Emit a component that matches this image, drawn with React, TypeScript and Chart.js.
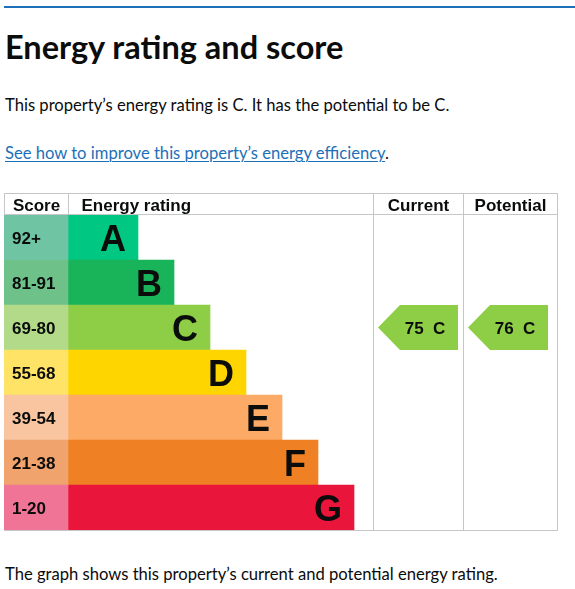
import { useEffect, useRef } from 'react';
import { Chart, registerables } from 'chart.js';
Chart.register(...registerables);

const bands = ['A', 'B', 'C', 'D', 'E', 'F', 'G'];
const scoreRanges = ['92+', '81-91', '69-80', '55-68', '39-54', '21-38', '1-20'];
const bandMin = [92, 81, 69, 55, 39, 21, 1];
const bandLength = [2, 3, 4, 5, 6, 7, 8]; // bar length in steps
const headers = ['Score', 'Energy rating', 'Current', 'Potential'];
const currentScore = 75;
const potentialScore = 76;

const bandColors = ['#00c781', '#19b459', '#8dce46', '#ffd500', '#fcaa65', '#ef8023', '#e9153b'];
const scoreColors = ['#6fc5a3', '#6fc18a', '#b2da88', '#ffe367', '#f8c5a0', '#f0a36c', '#ef7495'];

const COLS = [64, 305, 90, 94]; // column widths (scale units = px)
const STEP = 36;
const TOTAL = COLS.reduce((a, b) => a + b, 0);
const FONT = '"Liberation Sans", Arial, sans-serif';
const GRID = '#c4c6c8';
const INK = '#0b0c0c';

const bandOf = (score: number) => bandMin.findIndex(m => score >= m);

const tablePlugin = {
  id: 'epcTable',
  beforeDatasetsDraw(chart: any) {
    const { ctx, chartArea, scales } = chart;
    const x = scales.x;
    const edges = [0];
    COLS.forEach(w => edges.push(edges[edges.length - 1] + w));
    const px = edges.map(v => Math.round(x.getPixelForValue(v)) + 0.5);
    const yTop = chartArea.top - 22 + 0.5;
    const yHead = chartArea.top - 0.5;
    const yBot = chartArea.bottom + 0.5;
    ctx.save();
    ctx.strokeStyle = GRID;
    ctx.lineWidth = 1;
    ctx.beginPath();
    [yTop, yHead, yBot].forEach(y => { ctx.moveTo(px[0], y); ctx.lineTo(px[4], y); });
    px.forEach(p => { ctx.moveTo(p, yTop); ctx.lineTo(p, yBot); });
    ctx.stroke();

    ctx.fillStyle = INK;
    ctx.font = `bold 17px ${FONT}`;
    ctx.textBaseline = 'alphabetic';
    const base = chartArea.top - 4;
    headers.forEach((h, i) => {
      if (i === 1) {
        ctx.textAlign = 'left';
        ctx.fillText(h, px[1] + 13, base);
      } else {
        ctx.textAlign = 'center';
        ctx.fillText(h, (px[i] + px[i + 1]) / 2, base);
      }
    });
    ctx.restore();
  },
  afterDatasetsDraw(chart: any) {
    const { ctx, scales } = chart;
    const x = scales.x;
    const y = scales.y;
    ctx.save();
    ctx.fillStyle = INK;
    ctx.textBaseline = 'alphabetic';
    bands.forEach((b, i) => {
      const cy = y.getPixelForValue(i);
      ctx.font = `bold 17px ${FONT}`;
      ctx.textAlign = 'left';
      ctx.fillText(scoreRanges[i], x.getPixelForValue(0) + 8, cy + 6);
      ctx.font = `bold 36px ${FONT}`;
      ctx.textAlign = 'right';
      ctx.fillText(b, x.getPixelForValue(COLS[0] + bandLength[i] * STEP - 2) - 12, cy + 13);
    });

    const rowH = y.getPixelForValue(1) - y.getPixelForValue(0);
    [currentScore, potentialScore].forEach((score, k) => {
      const idx = bandOf(score);
      const cy = y.getPixelForValue(idx);
      const colStart = x.getPixelForValue(COLS[0] + COLS[1] + (k === 1 ? COLS[2] : 0));
      const tip = colStart + 5;
      const left = tip + 22;
      const right = tip + 80;
      ctx.fillStyle = bandColors[idx];
      ctx.beginPath();
      ctx.moveTo(tip, cy);
      ctx.lineTo(left, cy - rowH / 2);
      ctx.lineTo(right, cy - rowH / 2);
      ctx.lineTo(right, cy + rowH / 2);
      ctx.lineTo(left, cy + rowH / 2);
      ctx.closePath();
      ctx.fill();
      ctx.fillStyle = INK;
      ctx.font = `bold 17px ${FONT}`;
      ctx.textAlign = 'center';
      ctx.fillText(`${score}  ${bands[idx]}`, tip + 47, cy + 6);
    });
    ctx.restore();
  },
};

export default function App() {
  const canvasRef = useRef<HTMLCanvasElement>(null);

  useEffect(() => {
    const chart = new Chart(canvasRef.current!, {
      type: 'bar',
      data: {
        labels: bands,
        datasets: [
          {
            label: 'Score',
            data: bands.map(() => [0, COLS[0]]) as any,
            backgroundColor: scoreColors,
            grouped: false,
            barPercentage: 1,
            categoryPercentage: 1,
          },
          {
            label: 'Energy rating',
            data: bandLength.map(k => [COLS[0], COLS[0] + k * STEP - 2]) as any,
            backgroundColor: bandColors,
            grouped: false,
            barPercentage: 1,
            categoryPercentage: 1,
          },
        ],
      },
      options: {
        indexAxis: 'y',
        animation: false,
        responsive: true,
        maintainAspectRatio: false,
        layout: { padding: { left: 4, right: 575 - 4 - TOTAL, top: 30, bottom: 10 } },
        plugins: { legend: { display: false }, tooltip: { enabled: false } },
        scales: {
          x: { type: 'linear', min: 0, max: TOTAL, display: false },
          y: { type: 'category', display: false },
        },
      },
      plugins: [tablePlugin],
    });
    return () => chart.destroy();
  }, []);

  const text = { fontFamily: 'Lato, sans-serif', color: INK, position: 'absolute' as const, left: 5, margin: 0, whiteSpace: 'nowrap' as const };

  return (
    <div style={{ position: 'absolute', left: 0, top: 0, width: 575, height: 589, background: '#fff' }}>
      <div style={{ position: 'absolute', left: 4, top: 6, width: 571, height: 2, background: '#1d70b8' }} />
      <h2 style={{ ...text, top: 31, fontSize: 32.5, lineHeight: '32.5px', fontWeight: 700 }}>Energy rating and score</h2>
      <p style={{ ...text, top: 97, fontSize: 16.6, lineHeight: '16.6px' }}>
        This property’s energy rating is C. It has the potential to be C.
      </p>
      <p style={{ ...text, top: 145, fontSize: 16.6, lineHeight: '16.6px' }}>
        <a href="#" style={{ color: '#1d70b8', textDecorationThickness: 1, textUnderlineOffset: 2 }}>
          See how to improve this property’s energy efficiency
        </a>.
      </p>
      <div style={{ position: 'absolute', left: 0, top: 185, width: 575, height: 355 }}>
        <canvas ref={canvasRef} />
      </div>
      <p style={{ ...text, top: 566, fontSize: 16.6, lineHeight: '16.6px' }}>
        The graph shows this property’s current and potential energy rating.
      </p>
    </div>
  );
}
